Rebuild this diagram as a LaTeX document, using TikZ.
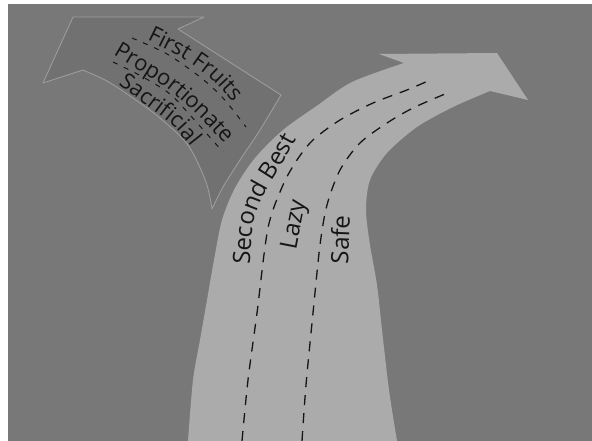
\documentclass[tikz,border=0pt]{standalone}
\usepackage{fontspec}
\setmainfont{Open Sans}
\usetikzlibrary{decorations.text}

\definecolor{bggray}{HTML}{787878}
\definecolor{roadgray}{HTML}{ABABAB}
\definecolor{signgray}{HTML}{717171}
\definecolor{signedge}{HTML}{9C9C9C}
\definecolor{ink}{HTML}{151515}

\newcommand\roadfont{\fontsize{24}{28}\selectfont\color{ink}}
\newcommand\signfont{\fontsize{22}{26}\selectfont\color{ink}}

\tikzset{
  lane/.style={ink, line width=1.3pt, dash pattern=on 10pt off 8pt},
  signlane/.style={ink, line width=1pt, dash pattern=on 5pt off 7pt},
  label road/.style={decorate, decoration={text along path, text={|\roadfont|#1}}},
  label sign/.style={decorate, decoration={text along path, text={|\signfont|#1}}},
}

\begin{document}
\begin{tikzpicture}[x=1pt, y=-1pt]

    \useasboundingbox (0,0) rectangle (592,441);

    % backdrop
    \fill[white] (0,0) rectangle (592,441);
    \fill[bggray] (8,4) rectangle (592,441);

    % side arrow
    \filldraw[fill=signgray, draw=signedge, line width=0.9pt, line join=round]
        (43,83) -- (73,17) -- (204,17) -- (178,29) -- (281,95)
        -- plot[smooth] coordinates {(281,95) (260,130) (240,160) (223,187) (212,209)}
        -- plot[smooth] coordinates {(212,209) (206,182) (188,145) (160,118) (133,98) (107,81) (83,70)}
        -- cycle;

    % main road
    \fill[roadgray]
        plot[smooth] coordinates {(188,441) (193,380) (200,340) (207,300) (214,260) (222,220) (235,188) (255,158) (283,130) (318,105) (352,82) (404,63)}
        -- (379,54) -- (497,53) -- (528,100) -- (490,91)
        -- plot[smooth] coordinates {(490,91) (453,107) (417,127) (387,153) (370,180) (366,210) (370,245) (377,285) (382,330) (389,390) (397,441)}
        -- cycle;

    % lanes on the road
    \draw[lane] plot[smooth] coordinates {(242,441) (248,380) (257,313) (268,228) (283,185) (297,160) (313,140) (340,120) (373,103) (407,90) (428,81)};
    \draw[lane] plot[smooth] coordinates {(302,441) (306,385) (313,313) (320,245) (327,205) (340,170) (360,143) (387,123) (413,108) (445,94)};

    % lanes on the side arrow
    \draw[signlane] plot[smooth] coordinates {(132,38) (167,54) (200,77) (223,98) (246,127)};
    \draw[signlane] plot[smooth] coordinates {(113,62) (143,77) (170,94) (190,115) (223,152)};

    % road labels
    \path[label road={Second Best}] plot[smooth] coordinates {(250,265) (253,225) (263,196) (280,168) (300,132) (312,112)};
    \path[label road=Lazy] (296,250) -- (309,183);
    \path[label road=Safe] (348,264) -- (351,192);

    % side arrow labels
    \path[label sign={First Fruits}] plot[smooth] coordinates {(147,40) (182,58) (210,78) (234,104) (250,125)};
    \path[label sign=Proportionate] plot[smooth] coordinates {(113,55) (165,87) (197,115) (228,148) (243,168)};
    \path[label sign=Sacrificial] plot[smooth] coordinates {(118,85) (150,108) (175,128) (198,156) (212,178)};

\end{tikzpicture}
\end{document}
